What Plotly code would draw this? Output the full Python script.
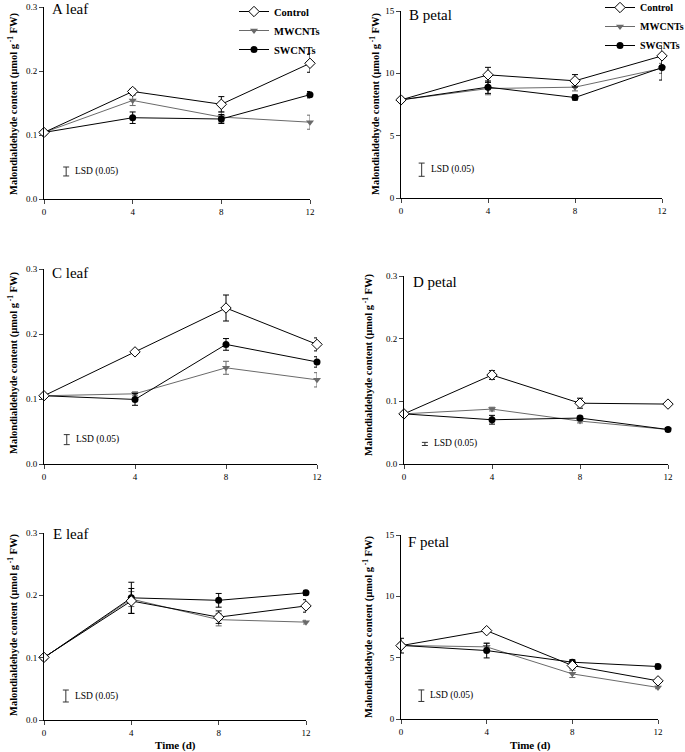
import plotly.graph_objects as go

time_days = [0, 4, 8, 12]
series_names = ["Control", "MWCNTs", "SWCNTs"]

# Panel A leaf
a_control = [0.104, 0.168, 0.148, 0.212]
a_control_err = [0.002, 0.004, 0.012, 0.014]
a_mw = [0.104, 0.154, 0.128, 0.120]
a_mw_err = [0.002, 0.008, 0.008, 0.011]
a_sw = [0.104, 0.127, 0.125, 0.163]
a_sw_err = [0.002, 0.009, 0.007, 0.005]
a_lsd = [0.043, 0.007]

# Panel B petal
b_control = [7.87, 9.88, 9.40, 11.40]
b_control_err = [0.1, 0.6, 0.5, 0.8]
b_mw = [7.87, 8.78, 8.89, 10.40]
b_mw_err = [0.1, 0.5, 0.3, 0.4]
b_sw = [7.87, 8.89, 8.06, 10.46]
b_sw_err = [0.1, 0.5, 0.2, 1.0]
b_lsd = [2.27, 0.53]

# Panel C leaf
c_control = [0.105, 0.1725, 0.240, 0.184]
c_control_err = [0.002, 0.002, 0.020, 0.010]
c_mw = [0.105, 0.108, 0.148, 0.1295]
c_mw_err = [0.002, 0.003, 0.010, 0.011]
c_sw = [0.105, 0.0993, 0.184, 0.157]
c_sw_err = [0.002, 0.009, 0.009, 0.008]
c_lsd = [0.0375, 0.0077]

# Panel D petal
d_control = [0.080, 0.142, 0.097, 0.0956]
d_control_err = [0.004, 0.007, 0.008, 0.003]
d_mw = [0.080, 0.0876, 0.0685, 0.055]
d_mw_err = [0.002, 0.003, 0.003, 0.003]
d_sw = [0.080, 0.0706, 0.0733, 0.055]
d_sw_err = [0.002, 0.007, 0.003, 0.003]
d_lsd = [0.032, 0.0025]

# Panel E leaf
e_control = [0.1005, 0.191, 0.165, 0.183]
e_control_err = [0.003, 0.020, 0.010, 0.010]
e_mw = [0.100, 0.194, 0.161, 0.157]
e_mw_err = [0.002, 0.012, 0.010, 0.003]
e_sw = [0.100, 0.196, 0.192, 0.204]
e_sw_err = [0.002, 0.025, 0.011, 0.004]
e_lsd = [0.0385, 0.0096]

# Panel F petal
f_control = [5.98, 7.20, 4.36, 3.11]
f_control_err = [0.60, 0.10, 0.20, 0.10]
f_mw = [6.00, 5.88, 3.68, 2.57]
f_mw_err = [0.10, 0.30, 0.30, 0.10]
f_sw = [6.00, 5.58, 4.63, 4.28]
f_sw_err = [0.10, 0.60, 0.20, 0.20]
f_lsd = [1.90, 0.47]

panel_labels = ["A leaf", "B petal", "C leaf", "D petal", "E leaf", "F petal"]
y_titles = "<b>Malondialdehyde content (µmol g<sup> -1</sup> FW)</b>"
x_title = "<b>Time (d)</b>"

W, H = 685, 752
FONT = "Liberation Serif"

# pixel boxes (left, right, top, bottom)
boxes = [
    (44, 310, 7, 199),
    (401, 662, 11, 198),
    (44, 317, 269, 464),
    (404, 668, 276, 464),
    (44, 306, 533, 720),
    (401, 658, 535, 719),
]
ranges = [[0, 0.3], [0, 15], [0, 0.3], [0, 0.3], [0, 0.3], [0, 15]]
tickvals = [[0, 0.1, 0.2, 0.3], [0, 5, 10, 15], [0, 0.1, 0.2, 0.3],
            [0, 0.1, 0.2, 0.3], [0, 0.1, 0.2, 0.3], [0, 5, 10, 15]]
ticktexts = [["0.0", "0.1", "0.2", "0.3"], ["0", "5", "10", "15"],
             ["0.0", "0.1", "0.2", "0.3"], ["0.0", "0.1", "0.2", "0.3"],
             ["0.0", "0.1", "0.2", "0.3"], ["0", "5", "10", "15"]]
panels = [
    (a_control, a_control_err, a_mw, a_mw_err, a_sw, a_sw_err, a_lsd),
    (b_control, b_control_err, b_mw, b_mw_err, b_sw, b_sw_err, b_lsd),
    (c_control, c_control_err, c_mw, c_mw_err, c_sw, c_sw_err, c_lsd),
    (d_control, d_control_err, d_mw, d_mw_err, d_sw, d_sw_err, d_lsd),
    (e_control, e_control_err, e_mw, e_mw_err, e_sw, e_sw_err, e_lsd),
    (f_control, f_control_err, f_mw, f_mw_err, f_sw, f_sw_err, f_lsd),
]
lsd_x = [1.0, 0.95, 1.0, 0.95, 1.0, 0.95]
ytitle_px = [(13, 104), (375, 104), (13, 363), (368, 365), (13, 625), (368, 627)]
label_px = [(50, 9), (407, 15), (50, 273), (411, 282), (51, 534), (406, 542)]
xtitle_px = [(175, 745), (530, 745)]

GRAY = "#6a6a6a"
fig = go.Figure()
layout = dict(width=W, height=H, margin=dict(l=0, r=0, t=0, b=0, autoexpand=False),
              paper_bgcolor="white", plot_bgcolor="white",
              font=dict(family=FONT, size=10, color="black"), annotations=[])

for i, (ctl, ctl_e, mw, mw_e, sw, sw_e, lsd) in enumerate(panels):
    n = "" if i == 0 else str(i + 1)
    xa, ya = "x" + n, "y" + n
    l, r, t, b = boxes[i]
    legend_name = "legend" if i == 0 else ("legend2" if i == 1 else None)
    show = legend_name is not None
    common = dict(x=time_days, xaxis=xa, yaxis=ya, mode="lines+markers", cliponaxis=False)
    fig.add_trace(go.Scatter(y=mw, name="<b>MWCNTs</b>", **common,
                             line=dict(color=GRAY, width=1),
                             marker=dict(symbol="triangle-down", size=7, color=GRAY),
                             error_y=dict(type="data", array=mw_e, color=GRAY, thickness=1, width=3),
                             showlegend=show, legend=legend_name or "legend", legendrank=2))
    fig.add_trace(go.Scatter(y=sw, name="<b>SWCNTs</b>", **common,
                             line=dict(color="black", width=1),
                             marker=dict(symbol="circle", size=7, color="black"),
                             error_y=dict(type="data", array=sw_e, color="black", thickness=1, width=3),
                             showlegend=show, legend=legend_name or "legend", legendrank=3))
    fig.add_trace(go.Scatter(y=ctl, name="<b>Control</b>", **common,
                             line=dict(color="black", width=1),
                             marker=dict(symbol="diamond", size=8, color="white",
                                         line=dict(color="black", width=1)),
                             error_y=dict(type="data", array=ctl_e, color="black", thickness=1, width=3),
                             showlegend=show, legend=legend_name or "legend", legendrank=1))
    # LSD bar
    fig.add_trace(go.Scatter(x=[lsd_x[i]], y=[lsd[0]], xaxis=xa, yaxis=ya, mode="markers",
                             marker=dict(size=1, color="rgba(0,0,0,0)"),
                             error_y=dict(type="data", array=[lsd[1]], color="#333333",
                                          thickness=1, width=3),
                             showlegend=False, hoverinfo="skip"))
    layout["annotations"].append(dict(x=lsd_x[i], y=lsd[0], xref=xa, yref=ya,
                                      text="LSD (0.05)", showarrow=False, xanchor="left",
                                      yanchor="middle", xshift=7,
                                      font=dict(family=FONT, size=9.5)))
    xkey = "xaxis" + n
    ykey = "yaxis" + n
    layout[xkey] = dict(domain=[l / W, r / W], anchor=ya, range=[0, 12],
                        tickvals=time_days, ticks="outside", ticklen=4, tickwidth=1,
                        showline=True, linecolor="black", linewidth=1, showgrid=False,
                        zeroline=False, tickfont=dict(family=FONT, size=9))
    layout[ykey] = dict(domain=[1 - b / H, 1 - t / H], anchor=xa, range=ranges[i],
                        tickvals=tickvals[i], ticktext=ticktexts[i], ticks="outside",
                        ticklen=4, tickwidth=1, showline=True, linecolor="black",
                        linewidth=1, showgrid=False, zeroline=False,
                        tickfont=dict(family=FONT, size=9))
    tx, ty = ytitle_px[i]
    layout["annotations"].append(dict(x=tx / W, y=1 - ty / H, xref="paper", yref="paper",
                                      text=y_titles, textangle=-90, showarrow=False,
                                      xanchor="center", yanchor="middle",
                                      font=dict(family=FONT, size=10.5)))
    lx, ly = label_px[i]
    layout["annotations"].append(dict(x=lx / W, y=1 - ly / H, xref="paper", yref="paper",
                                      text=panel_labels[i], showarrow=False, xanchor="left",
                                      yanchor="middle", font=dict(family=FONT, size=15)))

for (tx, ty) in xtitle_px:
    layout["annotations"].append(dict(x=tx / W, y=1 - ty / H, xref="paper", yref="paper",
                                      text=x_title, showarrow=False, xanchor="center",
                                      yanchor="middle", font=dict(family=FONT, size=11)))

legend_style = dict(bgcolor="rgba(0,0,0,0)", borderwidth=0, tracegroupgap=0,
                    itemwidth=30, xanchor="left", yanchor="top")
layout["legend"] = dict(x=234 / W, y=1 + 3 / H,
                        font=dict(family=FONT, size=10.5, color="black"), **legend_style)
layout["legend2"] = dict(x=600 / W, y=1 + 7 / H,
                         font=dict(family=FONT, size=10, color="black"), **legend_style)

fig.update_layout(**layout)
fig.write_html("out.html", config={"displayModeBar": False},
               post_script="document.body.style.margin='0';document.body.style.overflow='hidden';")
